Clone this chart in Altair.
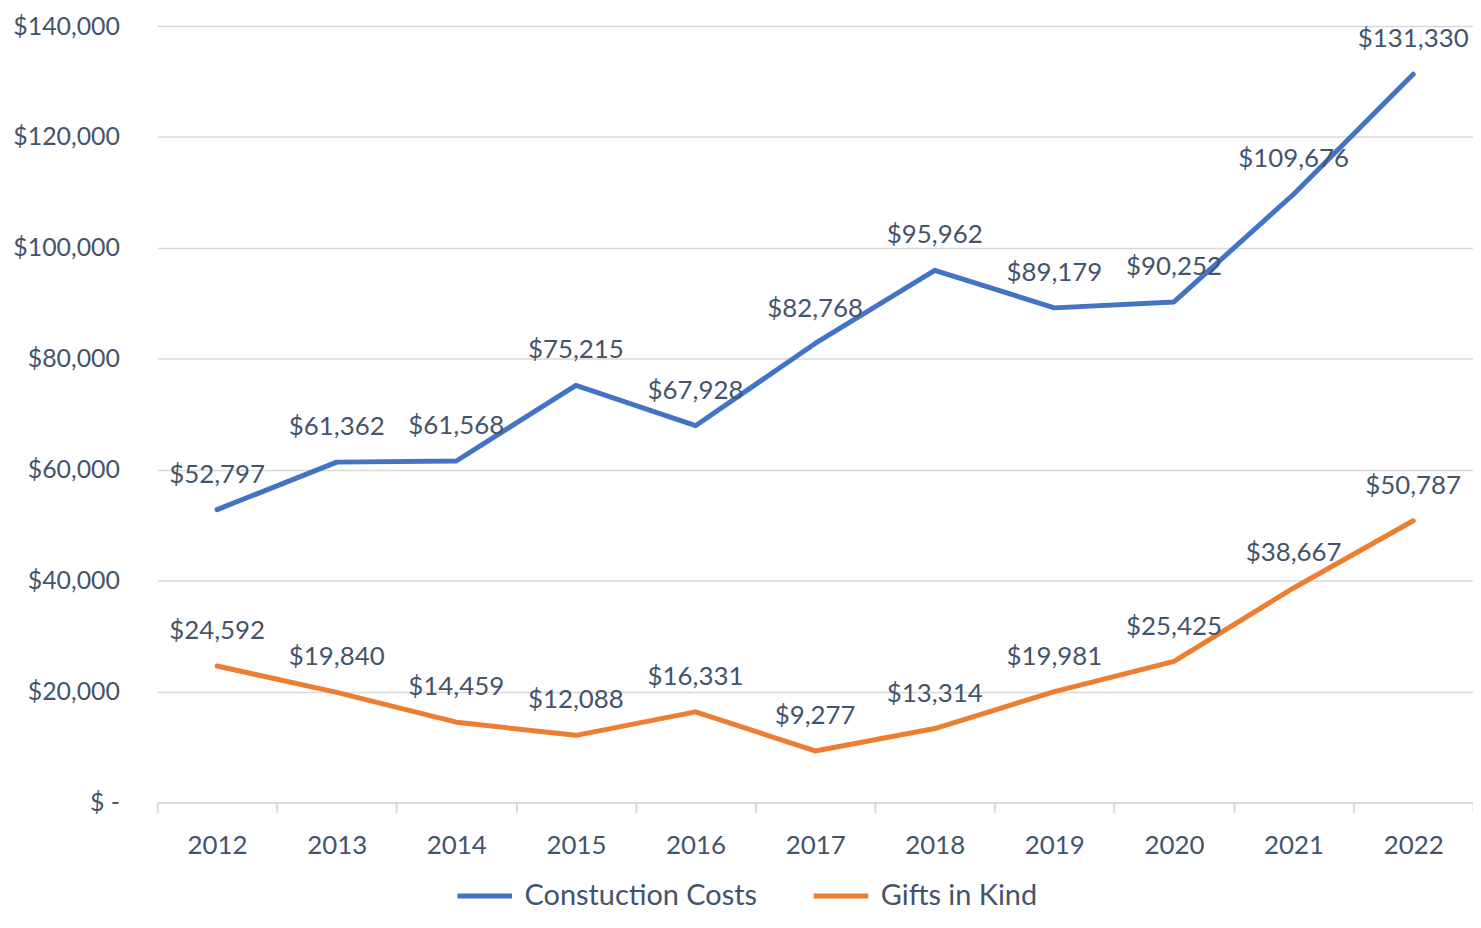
import altair as alt
import pandas as pd

years = [str(y) for y in range(2012, 2023)]
construction = [52797, 61362, 61568, 75215, 67928, 82768, 95962, 89179, 90252, 109676, 131330]
gifts = [24592, 19840, 14459, 12088, 16331, 9277, 13314, 19981, 25425, 38667, 50787]
series_names = ["Constuction Costs", "Gifts in Kind"]
colors = ["#4472C4", "#ED7D31"]
y_ticks = [0, 20000, 40000, 60000, 80000, 100000, 120000, 140000]

TEXT = "#44546A"
GRID = "#D9D9D9"
FONT = "Lato"

df = pd.DataFrame({
    "Year": years * 2,
    "Value": construction + gifts,
    "Series": [series_names[0]] * len(years) + [series_names[1]] * len(years),
})

x = alt.X(
    "Year:N",
    sort=years,
    scale=alt.Scale(type="band", paddingInner=0, paddingOuter=0),
    axis=alt.Axis(
        title=None, labelAngle=0, tickBand="extent", ticks=True, tickSize=10,
        tickColor=GRID, tickWidth=2, domainColor=GRID, domainWidth=2,
        labelFontSize=26, labelColor=TEXT, labelFont=FONT, labelPadding=20,
        grid=False,
    ),
)
y = alt.Y(
    "Value:Q",
    scale=alt.Scale(domain=[0, 140000], nice=False, zero=True),
    axis=alt.Axis(
        title=None, values=y_ticks, ticks=False, domain=False,
        grid=True, gridColor=GRID, gridWidth=1.5,
        labelFontSize=25, labelColor=TEXT, labelFont=FONT, labelPadding=38,
        labelExpr="datum.value == 0 ? '$ -\u00a0\u00a0\u00a0\u00a0' : '$' + format(datum.value, ',')",
    ),
)
color = alt.Color(
    "Series:N",
    scale=alt.Scale(domain=series_names, range=colors),
    legend=alt.Legend(
        title=None, orient="none", direction="horizontal", legendX=299, legendY=844,
        symbolType="stroke", symbolStrokeWidth=5, symbolSize=3000,
        labelFontSize=29, labelColor=TEXT, labelFont=FONT, labelLimit=0,
        columnPadding=46, labelOffset=10,
    ),
)

base = alt.Chart(df)
lines = base.mark_line(strokeWidth=5, strokeCap="round", strokeJoin="round").encode(
    x=x, y=y, color=color
)
labels = base.mark_text(dy=-35, fontSize=26, font=FONT, color=TEXT).encode(
    x=x, y=y, text=alt.Text("Value:Q", format="$,")
)

chart = (
    alt.layer(lines, labels)
    .properties(
        width=1322, height=780,
        autosize=alt.AutoSizeParams(type="none"),
        padding={"left": 150, "top": 16, "right": 0, "bottom": 112},
    )
    .configure_view(stroke=None)
    .configure_legend(symbolStrokeWidth=5)
)

chart.save("out.html", embed_options={"renderer": "svg", "actions": False})
